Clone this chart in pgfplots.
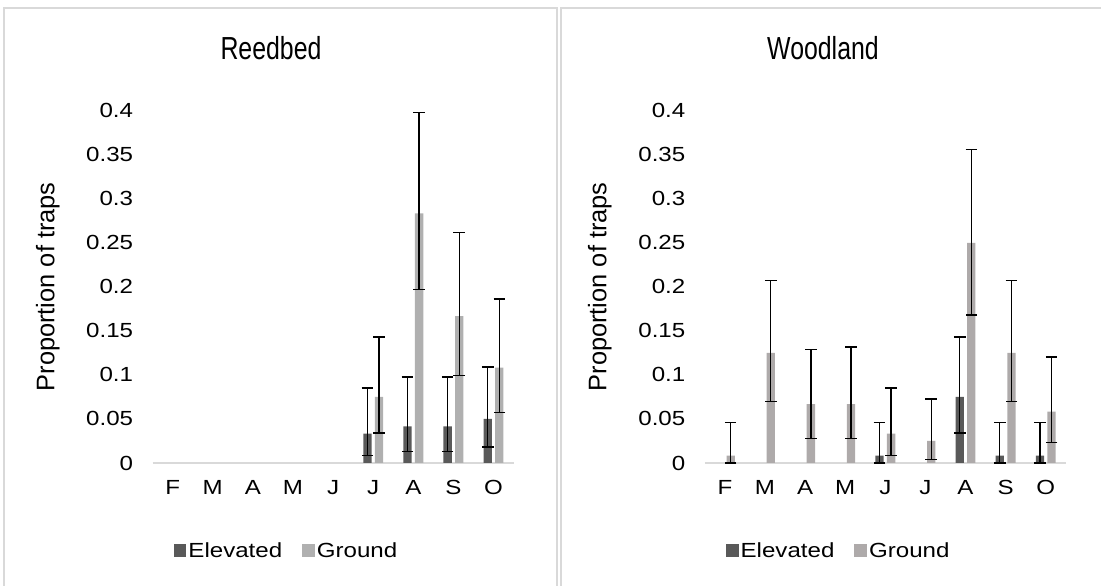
\documentclass[border=0pt]{standalone}
\usepackage{fontspec}
\setmainfont{Liberation Sans}
\newfontfamily\widefont[FakeStretch=1.18]{Liberation Sans}
\newfontfamily\narrowfont[FakeStretch=0.78]{Liberation Sans}
\usepackage{pgfplots}
\pgfplotsset{compat=1.18}
\usepackage{pgfplotstable}
\definecolor{elev}{HTML}{595959}
\definecolor{grnd}{HTML}{B0B0B0}
\definecolor{grndw}{HTML}{AEAAAA}
\definecolor{framec}{HTML}{D9D9D9}
\newcommand\tickfont{\widefont\fontsize{20.5}{24}\selectfont}
\newcommand\labfont{\fontsize{25.5}{30}\selectfont}
\newcommand\titlefont{\narrowfont\fontsize{32}{38}\selectfont}

\pgfplotstableread{
x y ep em
5 0.0333 0.0517 0.025
6 0.0417 0.056 0.029
7 0.0417 0.056 0.029
8 0.05 0.059 0.032
}\reedElev
\pgfplotstableread{
x y ep em
5 0.075 0.068 0.041
6 0.2833 0.115 0.086
7 0.1667 0.095 0.067
8 0.1083 0.078 0.051
}\reedGround
\pgfplotstableread{
x y ep em
4 0.0083 0.0374 0.0083
6 0.075 0.068 0.041
7 0.0083 0.0374 0.0083
8 0.0083 0.0374 0.0083
}\woodElev
\pgfplotstableread{
x y ep em
0 0.0083 0.0374 0.0083
1 0.125 0.0825 0.055
2 0.0667 0.062 0.039
3 0.0667 0.065 0.039
4 0.0333 0.052 0.025
5 0.025 0.0476 0.0208
6 0.25 0.106 0.082
7 0.125 0.082 0.0555
8 0.0583 0.062 0.035
}\woodGround

\pgfplotsset{
  myax/.style={
    scale only axis, width=361bp, height=352.3bp,
    xmin=-0.5, xmax=8.5, ymin=0, ymax=0.4,
    enlargelimits=false, clip=false,
    axis lines*=left,
    y axis line style={draw=none},
    x axis line style={draw=framec, line width=2bp},
    major tick length=0pt, tick style={draw=none},
    xtick={0,...,8}, xticklabels={F,M,A,M,J,J,A,S,O},
    ytick={0,0.05,0.1,0.15,0.2,0.25,0.3,0.35,0.4},
    yticklabels={0,0.05,0.1,0.15,0.2,0.25,0.3,0.35,0.4},
    ticklabel style={font=\tickfont},
    yticklabel style={xshift=-16bp},
    xticklabel style={yshift=-14bp},
    ylabel={Proportion of traps},
    ylabel style={font=\labfont, at={(axis description cs:-0.2906,0.5)}, anchor=center},
    ybar=3.3bp, bar width=8.3bp,
    legend columns=2,
    legend style={draw=none, fill=none, font=\tickfont,
      anchor=center, at={(0.371,-0.2487)},
      /tikz/every even column/.append style={column sep=18bp}},
    legend image code/.code={\fill[##1] (0bp,-6.5bp) rectangle (12.7bp,6.5bp);},
    error bars/error bar style={line width=1.3bp, black},
    error bars/error mark options={rotate=90, mark size=5.8bp, line width=1.3bp, black},
  },
  bars/.style={draw=none, fill=#1,
    error bars/.cd, y dir=both, y explicit},
}

\begin{document}
\begin{tikzpicture}[x=1bp,y=1bp]
\useasboundingbox (0,0) rectangle (1101,586);
\begin{scope}
\clip (0,0) rectangle (1101,586);
\draw[framec, line width=2bp] (4,-10) rectangle (556.5,578);
\draw[framec, line width=2bp] (560.5,-10) rectangle (1115,578);
\end{scope}
\node[anchor=base] at (271,526.7) {\titlefont Reedbed};
\node[anchor=base] at (823,526.7) {\titlefont Woodland};

\begin{axis}[myax, at={(152.6bp,123bp)}, anchor=south west]
\addplot[bars=elev] table[x=x, y=y, y error plus=ep, y error minus=em] {\reedElev};
\addplot[bars=grnd] table[x=x, y=y, y error plus=ep, y error minus=em] {\reedGround};
\legend{Elevated, Ground}
\end{axis}

\begin{axis}[myax, at={(704.8bp,123bp)}, anchor=south west]
\addplot[bars=elev] table[x=x, y=y, y error plus=ep, y error minus=em] {\woodElev};
\addplot[bars=grndw] table[x=x, y=y, y error plus=ep, y error minus=em] {\woodGround};
\legend{Elevated, Ground}
\end{axis}
\end{tikzpicture}
\end{document}
